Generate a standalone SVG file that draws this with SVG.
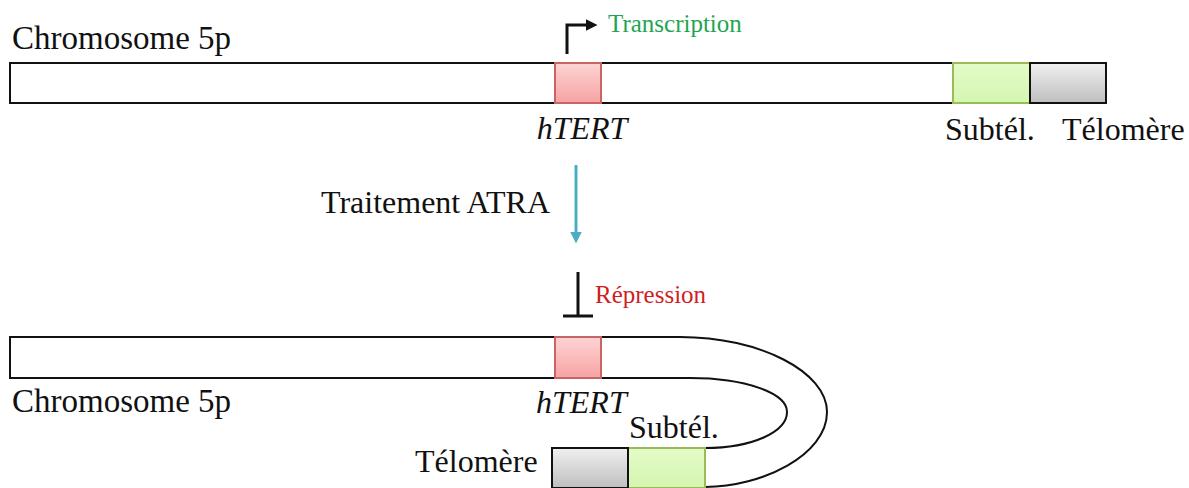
<svg xmlns="http://www.w3.org/2000/svg" width="1189" height="488" viewBox="0 0 1189 488">
<style>
.lbl{font-size:32px;fill:#111}
.chr{font-size:33px;fill:#111}
.it{font-style:italic}
.bar{fill:#fff;stroke:#111;stroke-width:2}
.pink{fill:url(#gPink);stroke:#c86464;stroke-width:2}
.green{fill:url(#gGreen);stroke:#9bbb59;stroke-width:2}
.gray{fill:url(#gGray);stroke:#111;stroke-width:2}
</style>
<defs>
<linearGradient id="gPink" x1="0" y1="0" x2="0" y2="1"><stop offset="0" stop-color="#fdd4d4"/><stop offset="1" stop-color="#f7a3a3"/></linearGradient>
<linearGradient id="gGreen" x1="0" y1="0" x2="0" y2="1"><stop offset="0" stop-color="#e4fbc8"/><stop offset="1" stop-color="#d3f7b0"/></linearGradient>
<linearGradient id="gGray" x1="0" y1="0" x2="0" y2="1"><stop offset="0" stop-color="#f0f0f0"/><stop offset="1" stop-color="#bfbfbf"/></linearGradient>
<marker id="ahBlack" markerWidth="4" markerHeight="4" refX="1.5" refY="2" orient="auto" markerUnits="strokeWidth"><path d="M0,0 L4,2 L0,4 Z" fill="#111"/></marker>
<marker id="ahBlue" markerWidth="4" markerHeight="4" refX="1.5" refY="2" orient="auto" markerUnits="strokeWidth"><path d="M0,0 L4,2 L0,4 Z" fill="#4bacc6"/></marker>
</defs>

<g id="top-chromosome">
<rect class="bar" x="10" y="63" width="1096" height="40"/>
<text class="chr" font-family="'Liberation Serif', serif" x="12" y="49">Chromosome 5p</text>
</g>
<g id="top-htert">
<rect class="pink" x="555" y="63" width="46" height="40"/>
<text class="lbl it" font-family="'Liberation Serif', serif" x="582" y="139" text-anchor="middle">hTERT</text>
</g>
<g id="top-subtel">
<rect class="green" x="953" y="63" width="77" height="40"/>
<text class="lbl" font-family="'Liberation Serif', serif" x="945" y="140">Subtél.</text>
</g>
<g id="top-telomere">
<rect class="gray" x="1030" y="63" width="76" height="40"/>
<text class="lbl" font-family="'Liberation Serif', serif" x="1062" y="140">Télomère</text>
</g>

<g id="treatment-label">
<text class="lbl" font-family="'Liberation Serif', serif" x="321" y="213">Traitement ATRA</text>
</g>

<g id="bottom-chromosome">
<path class="bar" d="M10 337 H680 C760 337 827 372 827 412 C827 455 762 487 705 487 H552 V448 H705 C752 448 787 432 787 412 C787 393 745 378 690 378 H10 Z"/>
<text class="chr" font-family="'Liberation Serif', serif" x="12" y="412">Chromosome 5p</text>
</g>
<g id="bottom-htert">
<rect class="pink" x="555" y="337" width="46" height="41"/>
<text class="lbl it" font-family="'Liberation Serif', serif" x="536" y="413">hTERT</text>
</g>
<g id="bottom-subtel">
<rect class="green" x="628" y="448" width="77" height="40"/>
<text class="lbl" font-family="'Liberation Serif', serif" x="629" y="438">Subtél.</text>
</g>
<g id="bottom-telomere">
<rect class="gray" x="552" y="448" width="76" height="40"/>
<text class="lbl" font-family="'Liberation Serif', serif" x="415" y="472">Télomère</text>
</g>

<g id="connectors">
<path d="M567 54 V25 H590" fill="none" stroke="#111" stroke-width="3" marker-end="url(#ahBlack)"/>
<text font-family="'Liberation Serif', serif" x="608" y="32" font-size="25" fill="#1fa552">Transcription</text>
<path d="M576 165 V236" fill="none" stroke="#4bacc6" stroke-width="3" marker-end="url(#ahBlue)"/>
<path d="M578 272 V316 M563 316 H593" fill="none" stroke="#111" stroke-width="3"/>
<text font-family="'Liberation Serif', serif" x="595" y="303" font-size="25" fill="#d01f1f">Répression</text>
</g>
</svg>
